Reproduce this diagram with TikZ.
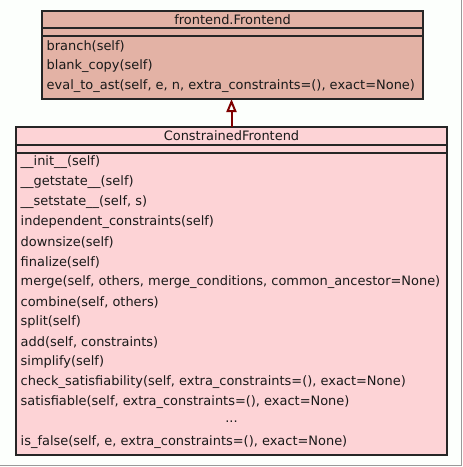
\documentclass[tikz,border=0pt]{standalone}
\usepackage{fontspec}
\setmainfont{DejaVu Sans}
\usetikzlibrary{arrows.meta,shadows}
\definecolor{topfill}{HTML}{E3B2A5}
\definecolor{botfill}{HTML}{FDD3D6}
\definecolor{arrowred}{HTML}{7F0000}
\definecolor{bgc}{HTML}{FCFFFC}
\begin{document}
\begin{tikzpicture}[x=1pt,y=-1pt,
  classbox/.style={draw=black!85, line width=1.3pt, inner sep=0pt, outer sep=0pt, anchor=north west,
    drop shadow={shadow xshift=1.2pt, shadow yshift=-1.2pt, fill=black!60, opacity=1}},
  member/.style={anchor=west, inner sep=0pt, font=\fontsize{12.95}{15}\selectfont, text=black!90},
  ctitle/.style={inner sep=0pt, font=\fontsize{12.95}{15}\selectfont, text=black!90},
  sepline/.style={draw=black!85, line width=1.3pt},
  inherit/.style={draw=arrowred, line width=2pt, -{Triangle[open, length=13pt, width=10pt, line width=2pt]}}]
\fill[bgc] (0,0) rectangle (463,467);
\useasboundingbox (0,0) rectangle (463,467);
\draw[black!40, line width=1pt] (461.5,0) -- (461.5,465.5) -- (0,465.5);
% base class
\node[classbox, fill=topfill, minimum width=381pt, minimum height=88pt] (base) at (42,11) {};
\node[ctitle] (basetitle) at (232.5,19.5) {frontend.Frontend};
\draw[sepline] (base.west |- 0,28) -- (base.east |- 0,28);
\draw[sepline] (base.west |- 0,36) -- (base.east |- 0,36);
\node[member] (b1) at (46.5,46) {branch(self)};
\node[member] (b2) at (46.5,66) {blank\_copy(self)};
\node[member] (b3) at (46.5,86) {eval\_to\_ast(self, e, n, extra\_constraints=(), exact=None)};
% derived class
\node[classbox, fill=botfill, minimum width=431pt, minimum height=328pt] (derived) at (16,127) {};
\node[ctitle] (dertitle) at (231.5,136) {ConstrainedFrontend};
\draw[sepline] (derived.west |- 0,145) -- (derived.east |- 0,145);
\draw[sepline] (derived.west |- 0,153) -- (derived.east |- 0,153);
\node[member] (d1) at (20.5,162) {\_\_init\_\_(self)};
\node[member] (d2) at (20.5,182) {\_\_getstate\_\_(self)};
\node[member] (d3) at (20.5,202) {\_\_setstate\_\_(self, s)};
\node[member] (d4) at (20.5,222) {independent\_constraints(self)};
\node[member] (d5) at (20.5,242) {downsize(self)};
\node[member] (d6) at (20.5,262) {finalize(self)};
\node[member] (d7) at (20.5,282) {merge(self, others, merge\_conditions, common\_ancestor=None)};
\node[member] (d8) at (20.5,302) {combine(self, others)};
\node[member] (d9) at (20.5,322) {split(self)};
\node[member] (d10) at (20.5,342) {add(self, constraints)};
\node[member] (d11) at (20.5,362) {simplify(self)};
\node[member] (d12) at (20.5,382) {check\_satisfiability(self, extra\_constraints=(), exact=None)};
\node[member] (d13) at (20.5,402) {satisfiable(self, extra\_constraints=(), exact=None)};
\node[ctitle] (d14) at (231.5,422) {...};
\node[member] (d15) at (20.5,442) {is\_false(self, e, extra\_constraints=(), exact=None)};
% inheritance
\draw[inherit] (derived.north) -- (derived.north |- base.south);
\end{tikzpicture}
\end{document}
